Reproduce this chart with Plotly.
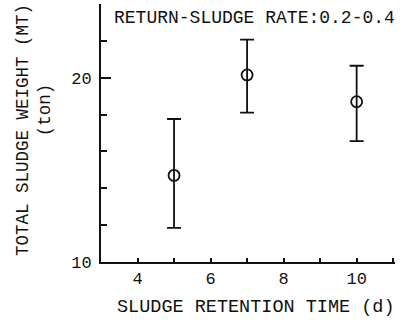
import plotly.graph_objects as go

# Sludge retention time (d) and total sludge weight (ton)
retention_days = [5, 7, 10]
sludge_mean = [14.7, 20.15, 18.7]
sludge_upper = [17.76, 22.07, 20.65]
sludge_lower = [11.85, 18.11, 16.56]

x_tick_vals = [4, 6, 8, 10]
x_tick_text = ["4", "6", "8", "10"]
x_minor_vals = [5, 7, 9, 11]
y_tick_vals = [10, 20]
y_tick_text = ["10", "20"]
y_minor_vals = [12, 14, 16, 18, 22, 24]

FONT = "Liberation Mono"
INK = "#111111"
X_RANGE = [3, 11.05]
Y_RANGE = [10, 24]

err_plus = [u - m for u, m in zip(sludge_upper, sludge_mean)]
err_minus = [m - l for m, l in zip(sludge_mean, sludge_lower)]

fig = go.Figure()
fig.add_trace(go.Scatter(
    x=retention_days,
    y=sludge_mean,
    mode="markers",
    marker=dict(symbol="circle-open", size=11, color=INK, line=dict(width=1.8, color=INK)),
    error_y=dict(type="data", symmetric=False, array=err_plus, arrayminus=err_minus,
                 color=INK, thickness=1.8, width=7),
    showlegend=False,
))
# empty trace that carries the overlay axes used for the short ticks
fig.add_trace(go.Scatter(x=[None], y=[None], xaxis="x2", yaxis="y2",
                         mode="markers", showlegend=False, hoverinfo="skip"))

fig.update_layout(
    width=408, height=329,
    margin=dict(l=101, r=13, t=4, b=67),
    paper_bgcolor="white", plot_bgcolor="white",
    font=dict(family=FONT, size=17, color=INK),
    xaxis=dict(
        range=X_RANGE, showgrid=False, zeroline=False,
        showline=True, linecolor=INK, linewidth=2,
        tickvals=x_tick_vals, ticktext=x_tick_text,
        ticks="inside", ticklen=4, tickwidth=1.5, tickcolor=INK,
        tickfont=dict(family=FONT, size=17, color=INK),
    ),
    yaxis=dict(
        range=Y_RANGE, showgrid=False, zeroline=False,
        showline=True, linecolor=INK, linewidth=2,
        tickvals=y_tick_vals, ticktext=y_tick_text,
        ticks="inside", ticklen=10, tickwidth=1.5, tickcolor=INK,
        tickfont=dict(family=FONT, size=17, color=INK),
        ticklabelstandoff=4,
    ),
    xaxis2=dict(
        range=X_RANGE, overlaying="x", anchor="y2", side="bottom",
        showgrid=False, zeroline=False, showline=False,
        tickvals=x_minor_vals, ticktext=["" for _ in x_minor_vals],
        ticks="inside", ticklen=4, tickwidth=1.5, tickcolor=INK,
    ),
    yaxis2=dict(
        range=Y_RANGE, overlaying="y", anchor="x2", side="left",
        showgrid=False, zeroline=False, showline=False,
        tickvals=y_minor_vals, ticktext=["" for _ in y_minor_vals],
        ticks="inside", ticklen=6, tickwidth=1.5, tickcolor=INK,
    ),
    annotations=[
        dict(text="RETURN-SLUDGE RATE:0.2-0.4", xref="paper", yref="paper",
             x=0.037, y=0.946, xanchor="left", yanchor="middle", showarrow=False,
             font=dict(family=FONT, size=18, color=INK)),
        dict(text="SLUDGE RETENTION TIME (d)", xref="paper", yref="paper",
             x=0.527, y=-0.178, xanchor="center", yanchor="middle", showarrow=False,
             font=dict(family=FONT, size=18.5, color=INK)),
        dict(text="TOTAL SLUDGE WEIGHT (MT)", xref="paper", yref="paper",
             x=-0.265, y=0.512, xanchor="center", yanchor="middle", showarrow=False,
             textangle=-90, font=dict(family=FONT, size=17.5, color=INK)),
        dict(text="(ton)", xref="paper", yref="paper",
             x=-0.19, y=0.589, xanchor="center", yanchor="middle", showarrow=False,
             textangle=-90, font=dict(family=FONT, size=17.5, color=INK)),
    ],
)

fig.write_html("out.html")
